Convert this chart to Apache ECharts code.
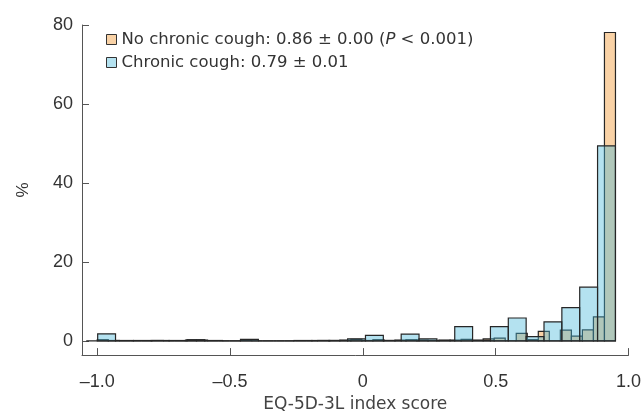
<!DOCTYPE html>
<html>
<head>
<meta charset="utf-8">
<script src="https://cdn.jsdelivr.net/npm/echarts@6/dist/echarts.min.js"></script>
<style>
  html, body { margin: 0; padding: 0; background: #fff; }
  #chart { width: 644px; height: 418px; }
</style>
</head>
<body>
<div id="chart"></div>
<script>
// histogram bins: left edge of first bin and common width, per group
const chronicStart = -0.998
const chronicWidth = 0.0672
const noChronicStart = -1.041
const noChronicWidth = 0.0415

// % of respondents per bin
const chronicValues = [
  1.8, 0.1, 0.1, 0.1, 0.1, 0.3, 0.1, 0, 0.4, 0,
  0, 0.1, 0.1, 0.1, 0.5, 1.4, 0.1, 1.7, 0.5, 0.1,
  3.6, 0.2, 3.6, 5.8, 1.1, 4.8, 8.4, 13.6, 49.4
]
const noChronicValues = [
  0, 0.3, 0.1, 0, 0, 0, 0.1, 0, 0, 0.2,
  0.2, 0, 0, 0, 0.2, 0, 0, 0, 0, 0,
  0, 0.1, 0.1, 0.2, 0.4, 0.1, 0.3, 0.1, 0.2, 0.3,
  0.2, 0.1, 0.2, 0.2, 0.4, 0.1, 0.5, 0.7, 0, 1.9,
  0.3, 2.4, 0, 2.7, 1.2, 2.8, 6.1, 78.1
]

const xTicks = [-1, -0.5, 0, 0.5, 1]
const xTickLabels = ['–1.0', '–0.5', '0', '0.5', '1.0']
const yTicks = [0, 20, 40, 60, 80]

const legendNames = ['No chronic cough', 'Chronic cough']
const legendTexts = {
  'No chronic cough': '{t|No chronic cough: 0.86 ± 0.00 (}{i|P}{t| < 0.001)}',
  'Chronic cough': '{t|Chronic cough: 0.79 ± 0.01}',
}

function toBins(start, width, values) {
  return values.map((v, i) => [start + i * width, start + (i + 1) * width, v])
}

function binRenderer(fill) {
  return (params, api) => {
    const top = api.coord([api.value(0), api.value(2)])
    const bottom = api.coord([api.value(1), 0])
    return {
      type: 'rect',
      shape: { x: top[0], y: top[1], width: bottom[0] - top[0], height: bottom[1] - top[1] },
      style: { fill, stroke: '#262626', lineWidth: 1.2 },
    }
  }
}

const tickFont = { fontFamily: 'Liberation Sans', fontSize: 18, color: '#333' }
const orangeFill = '#f9d2a6'

const chart = echarts.init(document.getElementById('chart'), null, { renderer: 'canvas' })
chart.setOption({
  animation: false,
  grid: { left: 82, right: 13, top: 25, bottom: 61 },
  legend: {
    orient: 'vertical',
    left: 101,
    top: 26,
    itemWidth: 10,
    itemHeight: 10,
    itemGap: 6,
    icon: 'rect',
    data: [
      { name: legendNames[0], itemStyle: { color: orangeFill, borderColor: '#333', borderWidth: 1 } },
      { name: legendNames[1], itemStyle: { color: '#b4e2f0', borderColor: '#333', borderWidth: 1 } },
    ],
    formatter: (name) => legendTexts[name],
    textStyle: {
      rich: {
        t: { fontFamily: 'DejaVu Sans', fontSize: 16.5, color: '#333' },
        i: { fontFamily: 'DejaVu Sans', fontSize: 16.5, color: '#333', fontStyle: 'italic' },
      },
    },
  },
  xAxis: {
    type: 'value',
    min: -1.057,
    max: 1.0,
    name: 'EQ-5D-3L index score',
    nameLocation: 'middle',
    nameGap: 40,
    nameTextStyle: { fontFamily: 'DejaVu Sans', fontSize: 17, color: '#444' },
    axisLine: { show: true, onZero: false, lineStyle: { color: '#555', width: 1 } },
    axisTick: { show: true, inside: true, length: 7, customValues: xTicks, lineStyle: { color: '#555' } },
    axisLabel: {
      customValues: xTicks,
      margin: 18,
      ...tickFont,
      formatter: (v) => xTickLabels[xTicks.findIndex(t => Math.abs(t - v) < 1e-6)] ?? '',
    },
    splitLine: { show: false },
  },
  yAxis: {
    type: 'value',
    min: -3.6,
    max: 80,
    name: '%',
    nameLocation: 'middle',
    nameGap: 50,
    nameTextStyle: { fontFamily: 'Liberation Sans', fontSize: 17, color: '#333' },
    axisLine: { show: true, onZero: false, lineStyle: { color: '#555', width: 1 } },
    axisTick: { show: true, inside: true, length: 7, customValues: yTicks, lineStyle: { color: '#555' } },
    axisLabel: { customValues: yTicks, margin: 9, ...tickFont },
    splitLine: { show: false },
  },
  series: [
    {
      name: legendNames[0],
      type: 'custom',
      itemStyle: { color: orangeFill },
      encode: { x: [0, 1], y: 2 },
      renderItem: binRenderer(orangeFill),
      data: toBins(noChronicStart, noChronicWidth, noChronicValues),
      z: 1,
    },
    {
      name: legendNames[1],
      type: 'custom',
      itemStyle: { color: '#b4e2f0' },
      encode: { x: [0, 1], y: 2 },
      renderItem: binRenderer('rgba(68, 183, 218, 0.4)'),
      data: toBins(chronicStart, chronicWidth, chronicValues),
      z: 2,
    },
  ],
})
</script>
</body>
</html>
